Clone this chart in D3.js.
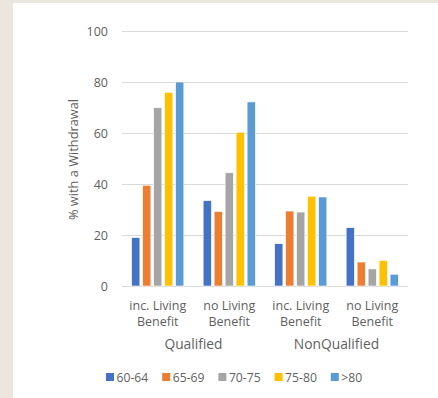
<!DOCTYPE html>
<html>
<head>
<meta charset="utf-8">
<script src="https://cdn.jsdelivr.net/npm/d3@7"></script>
<style>
  html, body { margin: 0; padding: 0; background: #ebe7df; }
  svg { display: block; }
</style>
</head>
<body>
<svg id="chart" width="438" height="398"></svg>
<script>
// Share of contracts with a withdrawal, by product type and owner age band
const categories = ["inc. Living|Benefit", "no Living|Benefit", "inc. Living|Benefit", "no Living|Benefit"];
const groups = [{ name: "Qualified", span: [0, 1] }, { name: "NonQualified", span: [2, 3] }];
const seriesNames = ["60-64", "65-69", "70-75", "75-80", ">80"];
const seriesColors = ["#4472c4", "#ed7d31", "#a5a5a5", "#ffc000", "#5b9bd5"];
const age6064 = [19.0, 33.5, 16.6, 22.9];
const age6569 = [39.5, 29.2, 29.4, 9.4];
const age7075 = [69.9, 44.4, 29.0, 6.7];
const age7580 = [75.9, 60.3, 35.2, 10.0];
const ageOver80 = [80.0, 72.2, 34.9, 4.6];
const yTicks = [0, 20, 40, 60, 80, 100];

const seriesValues = [age6064, age6569, age7075, age7580, ageOver80];

const svg = d3.select("#chart");
const font = "'Open Sans', 'Liberation Sans', sans-serif";
const textColor = "#5f5f5f";

// white chart panel over the beige page
svg.append("rect").attr("x", 13).attr("y", 3).attr("width", 425).attr("height", 395).attr("fill", "#ffffff");

const plot = { left: 122, right: 408, top: 31, bottom: 286 };

const x0 = d3.scaleBand().domain(d3.range(categories.length))
  .range([plot.left, plot.right]).paddingInner(0.27).paddingOuter(0.135);
const x1 = d3.scaleBand().domain(d3.range(seriesNames.length))
  .range([0, x0.bandwidth()]).paddingInner(0.25);
const y = d3.scaleLinear().domain([0, 100]).range([plot.bottom, plot.top]);

// gridlines
svg.append("g").selectAll("line").data(yTicks).join("line")
  .attr("x1", plot.left).attr("x2", plot.right)
  .attr("y1", d => Math.round(y(d)) + 0.5).attr("y2", d => Math.round(y(d)) + 0.5)
  .attr("stroke", "#d9d9d9").attr("stroke-width", 1);

// y axis labels
const yAxis = d3.axisLeft(y).tickValues(yTicks).tickSize(0).tickPadding(0);
const gy = svg.append("g").attr("transform", `translate(${plot.left - 14},0)`).call(yAxis);
gy.select(".domain").remove();
gy.selectAll("text").attr("fill", textColor).attr("font-family", font).attr("font-size", 12.5);

// bars
const catG = svg.append("g").selectAll("g").data(categories.map((c, i) => i)).join("g")
  .attr("transform", i => `translate(${x0(i)},0)`);
catG.selectAll("rect").data(i => seriesValues.map((vals, s) => ({ s, v: vals[i] }))).join("rect")
  .attr("x", d => x1(d.s))
  .attr("width", x1.bandwidth())
  .attr("y", d => y(d.v))
  .attr("height", d => y(0) - y(d.v))
  .attr("fill", d => seriesColors[d.s])
  .attr("stroke", "#ffffff").attr("stroke-width", 0.6);

// category labels (two lines)
const xAxis = d3.axisBottom(x0).tickSize(0).tickFormat(() => "");
svg.append("g").attr("transform", `translate(0,${plot.bottom})`).call(xAxis)
  .call(g => g.select(".domain").remove());
categories.forEach((c, i) => {
  const t = svg.append("text").attr("x", x0(i) + x0.bandwidth() / 2).attr("y", 309.5)
    .attr("text-anchor", "middle").attr("fill", textColor)
    .attr("font-family", font).attr("font-size", 12.5);
  c.split("|").forEach((line, k) => {
    t.append("tspan").attr("x", x0(i) + x0.bandwidth() / 2).attr("dy", k === 0 ? 0 : 16.5).text(line);
  });
});

// group labels
groups.forEach(g => {
  const cx = (x0(g.span[0]) + x0(g.span[1]) + x0.bandwidth()) / 2;
  svg.append("text").attr("x", cx).attr("y", 349).attr("text-anchor", "middle")
    .attr("fill", textColor).attr("font-family", font).attr("font-size", 13.8).text(g.name);
});

// y axis title
svg.append("text")
  .attr("transform", `translate(78,${(plot.top + plot.bottom) / 2 + 1}) rotate(-90)`)
  .attr("text-anchor", "middle").attr("fill", textColor)
  .attr("font-family", font).attr("font-size", 12.8).text("% with a Withdrawal");

// legend
const legend = svg.append("g").selectAll("g").data(seriesNames).join("g")
  .attr("transform", (d, i) => `translate(${106 + i * 56.2},377)`);
legend.append("rect").attr("x", 0).attr("y", -4).attr("width", 8).attr("height", 8)
  .attr("fill", (d, i) => seriesColors[i]);
legend.append("text").attr("x", 10.5).attr("y", 4.5)
  .attr("fill", textColor).attr("font-family", font).attr("font-size", 12.2).text(d => d);
</script>
</body>
</html>
